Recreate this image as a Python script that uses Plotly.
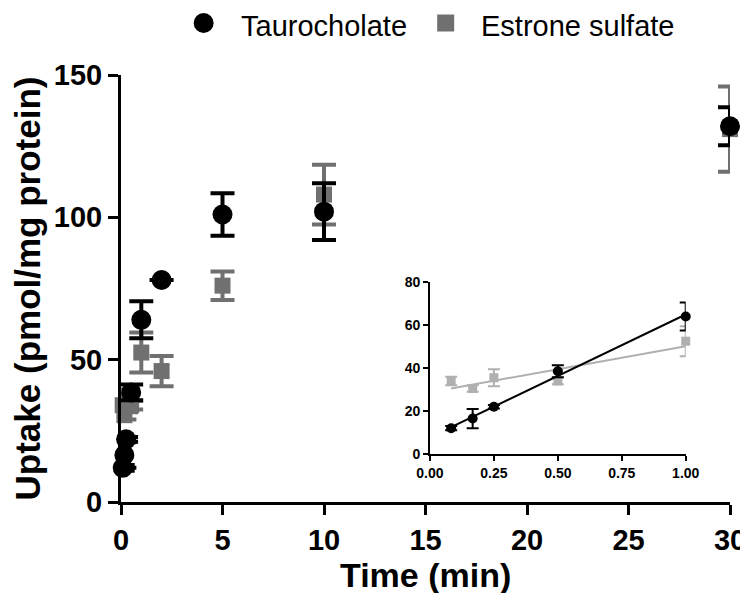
import numpy as np
import plotly.graph_objects as go

# ---- data ----
time_min = [0.083, 0.167, 0.25, 0.5, 1, 2, 5, 10, 30]
taurocholate = [12, 16.5, 22, 38.5, 64, 78, 101, 102, 132]
taurocholate_err = [1, 4.5, 0.8, 2.8, 6.5, 0, 7.5, 10, 6.7]
estrone_sulfate = [34, 30.5, 35.5, 34, 52.5, 46, 76, 108, 131]
estrone_sulfate_err = [2, 1.5, 4, 1.5, 7, 5.3, 5, 10.5, 15]

series_names = ["Taurocholate", "Estrone sulfate"]
x_title = "Time (min)"
y_title = "Uptake (pmol/mg protein)"
n_inset = 5  # first five time points (<= 1 min) shown in the inset
x_ticks_main = [0, 5, 10, 15, 20, 25, 30]
y_ticks_main = [0, 50, 100, 150]
x_ticks_inset = [0, 0.25, 0.5, 0.75, 1.0]
y_ticks_inset = [0, 20, 40, 60, 80]

FONT = "Liberation Sans, Arial, sans-serif"
TC_COLOR = "#000000"
ES_COLOR = "#707070"
ES_INSET = "#b0b0b0"

# plot-area geometry (px) used to place the key in paper coordinates
W, H = 748, 593
L, R, T, B = 113, 16, 67, 99
PW, PH = W - L - R, H - T - B


def px_x(px):
    return (px - L) / PW


def px_y(py):
    return (H - B - py) / PH


fig = go.Figure()

# main plot: estrone sulfate first (drawn beneath)
fig.add_trace(go.Scatter(
    x=time_min, y=estrone_sulfate, mode="markers", name=series_names[1],
    marker=dict(symbol="square", size=16, color=ES_COLOR),
    error_y=dict(type="data", array=estrone_sulfate_err, color=ES_COLOR,
                 thickness=4, width=12),
    cliponaxis=False, showlegend=False, xaxis="x", yaxis="y"))
fig.add_trace(go.Scatter(
    x=time_min, y=taurocholate, mode="markers", name=series_names[0],
    marker=dict(symbol="circle", size=20, color=TC_COLOR),
    error_y=dict(type="data", array=taurocholate_err, color=TC_COLOR,
                 thickness=4, width=12),
    cliponaxis=False, showlegend=False, xaxis="x", yaxis="y"))

# inset
ti = np.array(time_min[:n_inset])
tc_i = np.array(taurocholate[:n_inset])
es_i = np.array(estrone_sulfate[:n_inset])
for yv, err, col, sym, sz in [
        (es_i, estrone_sulfate_err[:n_inset], ES_INSET, "square", 9),
        (tc_i, taurocholate_err[:n_inset], TC_COLOR, "circle", 10)]:
    slope, icpt = np.polyfit(ti, yv, 1)
    xf = np.array([ti.min(), ti.max()])
    fig.add_trace(go.Scatter(x=xf, y=slope * xf + icpt, mode="lines",
                             line=dict(color=col, width=2), showlegend=False,
                             xaxis="x2", yaxis="y2", hoverinfo="skip"))
    fig.add_trace(go.Scatter(x=ti, y=yv, mode="markers", showlegend=False,
                             marker=dict(symbol=sym, size=sz, color=col),
                             error_y=dict(type="data", array=err, color=col,
                                          thickness=2, width=6),
                             cliponaxis=False, xaxis="x2", yaxis="y2"))

# key at the top: pixel-sized symbol shapes + label annotations
key = [("circle", TC_COLOR, 10, 197, series_names[0], 233),
       ("rect", ES_COLOR, 8.5, 443, series_names[1], 477)]
shapes, annotations = [], []
for kind, col, half, gx, label, tx in key:
    shapes.append(dict(
        type=kind, xref="paper", yref="paper",
        xsizemode="pixel", ysizemode="pixel",
        xanchor=px_x(gx), yanchor=px_y(15),
        x0=-half, x1=half, y0=-half, y1=half,
        fillcolor=col, line=dict(width=0)))
    annotations.append(dict(
        text=label, x=px_x(tx), y=px_y(0), xref="paper", yref="paper",
        xanchor="left", yanchor="top", showarrow=False,
        font=dict(family=FONT, size=29, color="black")))

# x-axis title, kept fully inside the figure
annotations.append(dict(
    text=x_title, x=0.5, y=px_y(588), xref="paper", yref="paper",
    xanchor="center", yanchor="bottom", showarrow=False,
    font=dict(family=FONT, size=34, weight="bold", color="black")))

axis_common = dict(showline=True, linecolor="black", ticks="outside",
                   tickcolor="black", showgrid=False, zeroline=False)

fig.update_layout(
    width=W, height=H,
    margin=dict(l=L, r=R, t=T, b=B),
    paper_bgcolor="white", plot_bgcolor="white",
    font=dict(family=FONT, color="black"),
    showlegend=False,
    shapes=shapes,
    annotations=annotations,
    xaxis=dict(range=[0, 30], tickvals=x_ticks_main, linewidth=3,
               ticklen=10, tickwidth=3, domain=[0, 1], automargin=False,
               tickfont=dict(size=29, weight="bold"),
               **axis_common),
    yaxis=dict(range=[0, 150], tickvals=y_ticks_main, linewidth=3,
               ticklen=10, tickwidth=3, domain=[0, 1], automargin=False,
               tickfont=dict(size=29, weight="bold"),
               title=dict(text=y_title,
                          font=dict(size=35, weight="bold"), standoff=4),
               **axis_common),
    xaxis2=dict(range=[0, 1], tickvals=x_ticks_inset, tickformat=".2f",
                domain=[0.5073, 0.9273], anchor="y2", linewidth=1.5,
                ticklen=5, tickwidth=1.5,
                tickfont=dict(size=14, weight="bold"), **axis_common),
    yaxis2=dict(range=[0, 80], tickvals=y_ticks_inset,
                domain=[0.1124, 0.515], anchor="x2", linewidth=1.5,
                ticklen=5, tickwidth=1.5,
                tickfont=dict(size=14, weight="bold"), **axis_common),
)

fig.write_html("out.html")
